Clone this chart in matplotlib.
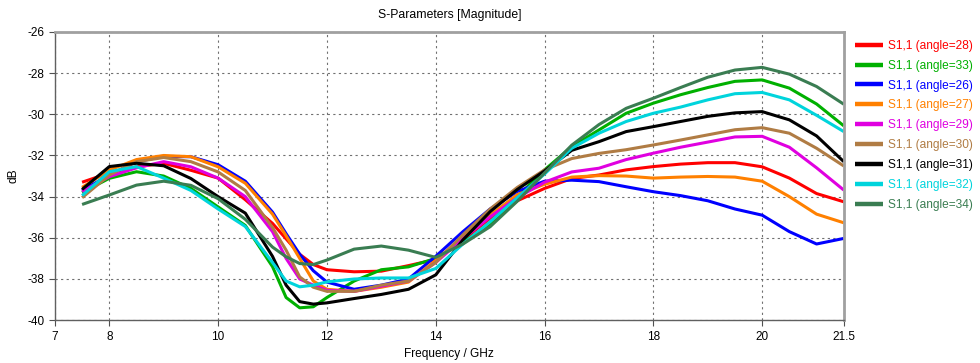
import numpy as np
import matplotlib.pyplot as plt

plt.rcParams['font.family'] = ['Liberation Sans', 'DejaVu Sans']
plt.rcParams['axes.unicode_minus'] = False

freq = [7.5, 8, 8.5, 9, 9.5, 10, 10.5, 11, 11.25, 11.5, 11.75, 12, 12.5, 13, 13.5,
        14, 14.5, 15, 15.5, 16, 16.5, 17, 17.5, 18, 18.5, 19, 19.5, 20, 20.5, 21, 21.5]

s11_a28 = [-33.3, -32.85, -32.55, -32.38, -32.72, -33.1, -34.15, -35.3, -36.05, -36.8, -37.3,
           -37.55, -37.65, -37.62, -37.35, -37.05, -36.1, -35.06, -34.2, -33.6, -33.12, -32.95,
           -32.7, -32.54, -32.42, -32.35, -32.35, -32.55, -33.1, -33.85, -34.25]
s11_a33 = [-33.8, -33.11, -32.79, -33.0, -33.6, -34.5, -35.4, -37.4, -38.9, -39.4, -39.35,
           -38.9, -38.1, -37.55, -37.41, -37.0, -36.2, -35.38, -34.0, -32.7, -31.57, -30.76,
           -29.95, -29.46, -29.05, -28.7, -28.4, -28.33, -28.73, -29.5, -30.56]
s11_a26 = [-33.7, -32.95, -32.3, -32.05, -32.06, -32.45, -33.25, -34.75, -35.8, -36.8, -37.6,
           -38.15, -38.5, -38.3, -38.0, -36.9, -35.7, -34.6, -33.75, -33.25, -33.2, -33.27,
           -33.52, -33.76, -33.95, -34.2, -34.6, -34.9, -35.7, -36.3, -36.03]
s11_a27 = [-33.55, -32.71, -32.2, -32.0, -32.06, -32.55, -33.35, -34.85, -35.9, -37.0, -38.1,
           -38.5, -38.6, -38.4, -38.15, -37.1, -35.95, -34.9, -33.9, -33.4, -33.05, -32.98,
           -33.0, -33.1, -33.05, -33.02, -33.05, -33.25, -34.0, -34.85, -35.27]
s11_a29 = [-33.75, -33.03, -32.6, -32.3, -32.55, -33.1, -34.0, -35.7, -37.0, -38.0, -38.3,
           -38.55, -38.6, -38.35, -38.1, -37.2, -36.05, -34.98, -34.05, -33.3, -32.8, -32.62,
           -32.2, -31.89, -31.6, -31.35, -31.1, -31.07, -31.6, -32.6, -33.68]
s11_a30 = [-34.05, -32.95, -32.3, -32.1, -32.3, -32.8, -33.7, -35.5, -36.6, -37.9, -38.4,
           -38.6, -38.6, -38.3, -38.1, -37.2, -35.85, -34.6, -33.55, -32.7, -32.15, -31.9,
           -31.72, -31.49, -31.25, -31.0, -30.75, -30.65, -30.92, -31.65, -32.51]
s11_a31 = [-33.65, -32.54, -32.38, -32.5, -33.12, -34.0, -34.8, -36.9, -38.3, -39.1, -39.22,
           -39.16, -38.95, -38.75, -38.5, -37.8, -36.1, -34.73, -33.65, -32.75, -31.75, -31.33,
           -30.84, -30.6, -30.35, -30.1, -29.93, -29.87, -30.27, -31.05, -32.3]
s11_a32 = [-33.95, -32.79, -32.54, -33.1, -33.7, -34.6, -35.45, -37.2, -38.1, -38.38, -38.3,
           -38.14, -38.0, -37.95, -37.95, -37.49, -36.3, -35.22, -34.05, -32.9, -31.65, -30.92,
           -30.35, -29.95, -29.65, -29.3, -29.0, -28.94, -29.3, -30.05, -30.84]
s11_a34 = [-34.38, -33.92, -33.44, -33.25, -33.45, -34.1, -35.1, -36.45, -36.92, -37.25, -37.3,
           -37.08, -36.55, -36.4, -36.6, -36.95, -36.3, -35.46, -34.22, -32.85, -31.5, -30.5,
           -29.71, -29.22, -28.7, -28.2, -27.85, -27.72, -28.05, -28.65, -29.51]

angles = [28, 33, 26, 27, 29, 30, 31, 32, 34]
series = [s11_a28, s11_a33, s11_a26, s11_a27, s11_a29, s11_a30, s11_a31, s11_a32, s11_a34]
colors = ['#ff0000', '#00b000', '#0000ff', '#ff8000', '#e000e0',
          '#b07c44', '#000000', '#00d4dc', '#3a7d52']

fig = plt.figure(figsize=(9.8, 3.63), dpi=100)
ax = fig.add_axes([0.056, 0.118, 0.805, 0.794])

for a, s, c in zip(angles, series, colors):
    ax.plot(freq, s, color=c, lw=2.2, label='S1,1 (angle=%d)' % a,
            solid_capstyle='butt', solid_joinstyle='round')

ax.set_xlim(7, 21.5)
ax.set_ylim(-40, -26)
ax.set_xticks([7, 8, 10, 12, 14, 16, 18, 20, 21.5])
ax.set_xticklabels(['7', '8', '10', '12', '14', '16', '18', '20', '21.5'])
ax.set_yticks(np.arange(-40, -25, 2))
ax.grid(True, color='#707070', ls=(0, (2, 3)), lw=0.8)
ax.tick_params(labelsize=8.5, length=4, color='#505050', direction='out')

for side in ['top', 'right']:
    ax.spines[side].set_color('#a0a0a0')
    ax.spines[side].set_linewidth(2)
for side in ['left', 'bottom']:
    ax.spines[side].set_color('#606060')
    ax.spines[side].set_linewidth(1)

ax.set_title('S-Parameters [Magnitude]', fontsize=8.8, pad=10)
ax.set_xlabel('Frequency / GHz', fontsize=8.6, labelpad=4)
ax.set_ylabel('dB', fontsize=8.6, labelpad=6)

leg = ax.legend(loc='upper left', bbox_to_anchor=(1.0, 1.01), frameon=False,
                fontsize=8.6, handlelength=2.4, handletextpad=0.4,
                labelspacing=0.66, labelcolor='linecolor')
for h in leg.get_lines():
    h.set_linewidth(3.2)

fig.savefig('out.png', dpi=100)
